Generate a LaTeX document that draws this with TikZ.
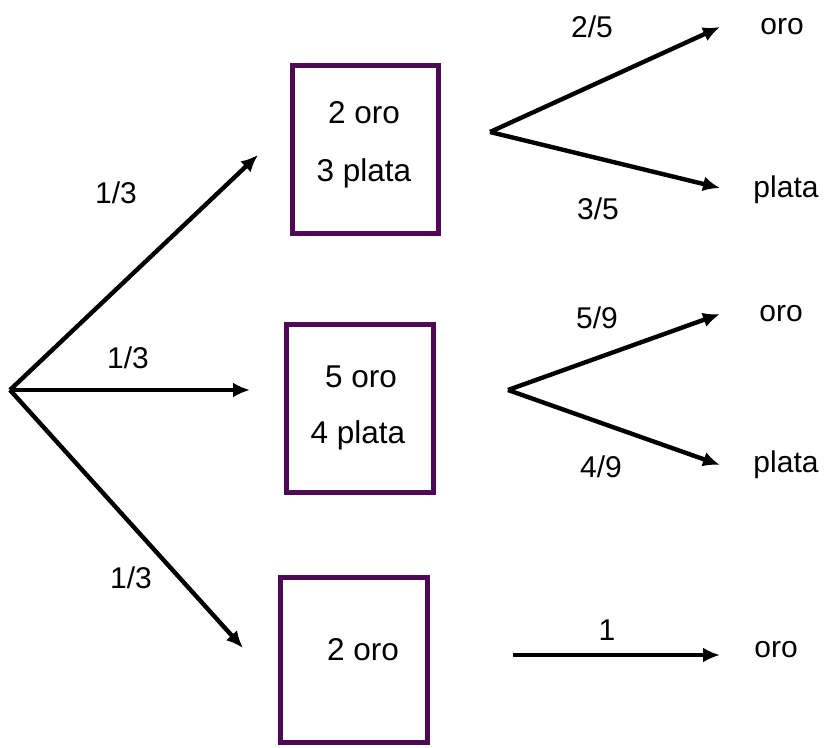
\documentclass[tikz,border=0pt]{standalone}
\usepackage{fontspec}
\setmainfont{Liberation Sans}
\usetikzlibrary{arrows.meta}
\definecolor{boxpurple}{RGB}{78,8,86}
\begin{document}
\begin{tikzpicture}[x=1pt,y=-1pt,
  arr/.style={line width=4.4pt,-{Latex[length=17pt,width=15pt]}},
  boxn/.style={draw=boxpurple,line width=5.5pt,rectangle,inner sep=0pt},
  lbl/.style={font=\fontsize{30pt}{32pt}\selectfont,inner sep=0pt},
  btxt/.style={font=\fontsize{31.5pt}{34pt}\selectfont,inner sep=0pt}]
\useasboundingbox (0,0) rectangle (824,747);
% root
\coordinate (O) at (10,390);
\coordinate (e1) at (258,155);
\coordinate (e2) at (250,390);
\coordinate (e3) at (243,648);
\draw[arr] (O) -- (e1);
\draw[arr] (O) -- (e2);
\draw[arr] (O) -- (e3);
\node[lbl] (l1) at (116,193) {1/3};
\node[lbl] (l2) at (128,358) {1/3};
\node[lbl] (l3) at (131,578) {1/3};
% boxes
\node[boxn,minimum width=146pt,minimum height=168pt] (b1) at (365.5,149.5) {};
\node[boxn,minimum width=147pt,minimum height=168pt] (b2) at (360,408.5) {};
\node[boxn,minimum width=147pt,minimum height=165pt] (b3) at (354,660) {};
\node[btxt] (t1a) at (364,113) {2 oro};
\node[btxt] (t1b) at (364,173) {3 plata};
\node[btxt] (t2a) at (361,377) {5 oro};
\node[btxt] (t2b) at (358,435) {4 plata};
\node[btxt] (t3a) at (363,650) {2 oro};
% branch 1
\coordinate (p1) at (490,132);
\coordinate (p1a) at (720,27);
\coordinate (p1b) at (720,188);
\draw[arr] (p1) -- (p1a);
\draw[arr] (p1) -- (p1b);
\node[lbl] (q1a) at (592,27) {2/5};
\node[lbl] (q1b) at (598,209) {3/5};
\node[lbl] (r1a) at (782,27) {oro};
\node[lbl] (r1b) at (786,190) {plata};
% branch 2
\coordinate (p2) at (508,390);
\coordinate (p2a) at (720,314);
\coordinate (p2b) at (720,465);
\draw[arr] (p2) -- (p2a);
\draw[arr] (p2) -- (p2b);
\node[lbl] (q2a) at (597,318) {5/9};
\node[lbl] (q2b) at (601,467) {4/9};
\node[lbl] (r2a) at (781,314) {oro};
\node[lbl] (r2b) at (786,465) {plata};
% branch 3
\coordinate (p3) at (513,655);
\coordinate (p3a) at (720,655);
\draw[arr] (p3) -- (p3a);
\node[lbl] (q3) at (607,630) {1};
\node[lbl] (r3) at (776,650) {oro};
\end{tikzpicture}
\end{document}
